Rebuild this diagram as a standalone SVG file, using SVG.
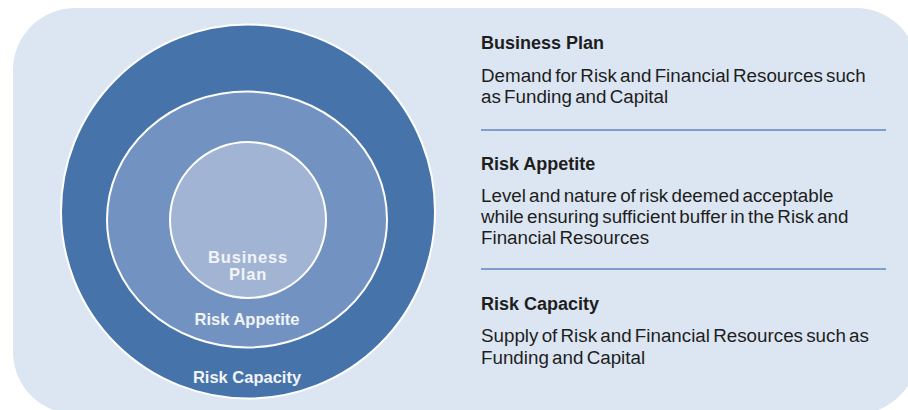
<svg xmlns="http://www.w3.org/2000/svg" width="908" height="410" viewBox="0 0 908 410">
<style>
.bg{fill:#dce6f2}
.ring{stroke:#ffffff;stroke-width:2}
.lbl{font-family:"Liberation Sans",Arial,sans-serif;font-weight:bold;font-size:16.5px;fill:#f2f4f8;text-anchor:middle}
.hd{font-family:"Liberation Sans",Arial,sans-serif;font-weight:bold;font-size:18px;fill:#1e1e1e}
.bd{font-family:"Liberation Sans",Arial,sans-serif;font-size:18.8px;fill:#1e1e1e;word-spacing:-2px}
.sep{stroke:#7d9fcf;stroke-width:2}
</style>
<rect class="bg" x="13" y="8" width="905" height="406" rx="62" ry="62"/>
<g id="risk-capacity">
<circle class="ring" cx="248" cy="211.5" r="187" fill="#4673a9"/>
<text class="lbl" x="247" y="383">Risk Capacity</text>
</g>
<g id="risk-appetite">
<ellipse class="ring" cx="247" cy="219.5" rx="140" ry="128" fill="#7293c2"/>
<text class="lbl" x="247" y="325">Risk Appetite</text>
</g>
<g id="business-plan">
<circle class="ring" cx="248" cy="220" r="78" fill="#a2b4d4"/>
<text class="lbl" x="248" y="263" letter-spacing="0.8">Business</text>
<text class="lbl" x="248" y="280" letter-spacing="0.8">Plan</text>
</g>
<g id="connectors">
<line class="sep" x1="481" y1="130" x2="886" y2="130"/>
<line class="sep" x1="481" y1="269" x2="886" y2="269"/>
</g>
<g id="desc-business-plan">
<text class="hd" x="481" y="49">Business Plan</text>
<text class="bd" x="481" y="82">Demand for Risk and Financial Resources such</text>
<text class="bd" x="481" y="103">as Funding and Capital</text>
</g>
<g id="desc-risk-appetite">
<text class="hd" x="481" y="170">Risk Appetite</text>
<text class="bd" x="481" y="202">Level and nature of risk deemed acceptable</text>
<text class="bd" x="481" y="223">while ensuring sufficient buffer in the Risk and</text>
<text class="bd" x="481" y="244">Financial Resources</text>
</g>
<g id="desc-risk-capacity">
<text class="hd" x="481" y="310">Risk Capacity</text>
<text class="bd" x="481" y="342">Supply of Risk and Financial Resources such as</text>
<text class="bd" x="481" y="364">Funding and Capital</text>
</g>
</svg>
